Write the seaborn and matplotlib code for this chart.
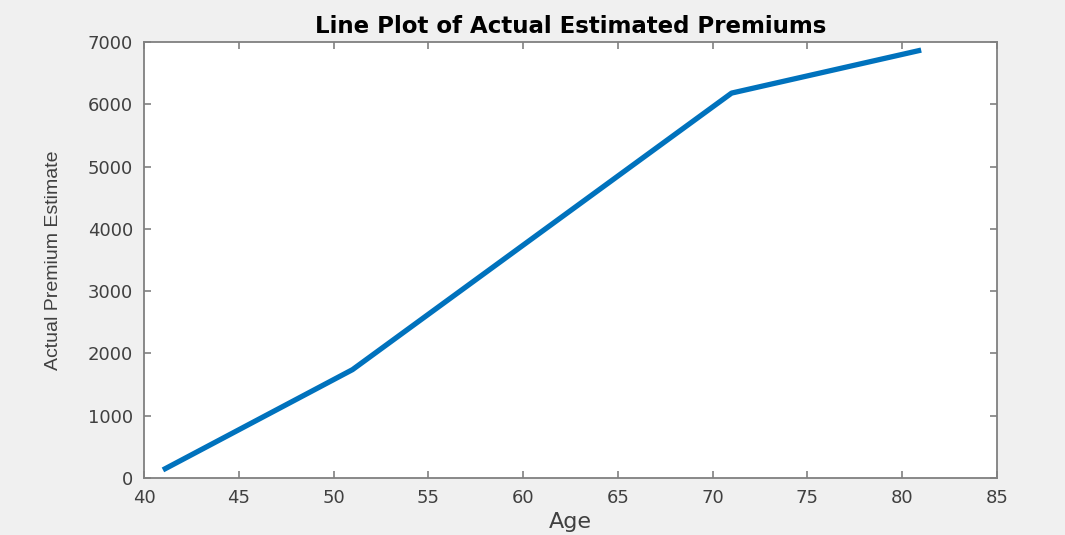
"""Line plot of actual estimated premiums by age (MATLAB-style look)."""

import matplotlib

matplotlib.use("Agg")
import matplotlib.pyplot as plt
import pandas as pd
import seaborn as sns
from matplotlib import font_manager

ages = [41, 51, 71, 81]
premiums = [130, 1740, 6180, 6870]

x_ticks = [40, 45, 50, 55, 60, 65, 70, 75, 80, 85]
y_ticks = [0, 1000, 2000, 3000, 4000, 5000, 6000, 7000]

LINE_COLOR = "#0072BD"
FIG_BG = "#F0F0F0"
AXIS_COLOR = "#808080"
TEXT_COLOR = "#404040"

sns.set_theme(style="white")
plt.rcParams["font.family"] = ["DejaVu Sans"]

installed = {f.name for f in font_manager.fontManager.ttflist}
if "Liberation Sans Narrow" in installed:
    ylabel_font, ylabel_size = "Liberation Sans Narrow", 17.5
else:
    ylabel_font, ylabel_size = "Liberation Sans", 14

df = pd.DataFrame({"Age": ages, "Premium": premiums})

fig = plt.figure(figsize=(10.65, 5.35), dpi=100, facecolor=FIG_BG)
ax = fig.add_axes([144 / 1065, 1 - 478 / 535, 853 / 1065, 436 / 535])
ax.set_facecolor("white")

sns.lineplot(data=df, x="Age", y="Premium", ax=ax, color=LINE_COLOR, linewidth=3.8,
             solid_capstyle="butt")

ax.set_xlim(40, 85)
ax.set_ylim(0, 7000)
ax.set_xticks(x_ticks)
ax.set_yticks(y_ticks)

for spine in ax.spines.values():
    spine.set_visible(True)
    spine.set_color(AXIS_COLOR)
    spine.set_linewidth(1.3)

ax.tick_params(axis="both", direction="in", length=5, width=1.2, color=AXIS_COLOR,
               labelsize=13, labelcolor=TEXT_COLOR, top=True, right=True,
               bottom=True, left=True)
ax.tick_params(axis="x", pad=8)
ax.tick_params(axis="y", pad=8)

ax.set_title("Line Plot of Actual Estimated Premiums", fontsize=16.5,
             fontweight="bold", color="#000000", pad=6.5)
ax.set_xlabel("Age", fontsize=16, color=TEXT_COLOR)
ax.xaxis.set_label_coords(0.5, -0.078)
ax.set_ylabel("Actual Premium Estimate", fontsize=ylabel_size, color=TEXT_COLOR,
              family=ylabel_font)
ax.yaxis.set_label_coords(-0.096, 0.5)

fig.savefig("out.png", dpi=100, facecolor=FIG_BG)
